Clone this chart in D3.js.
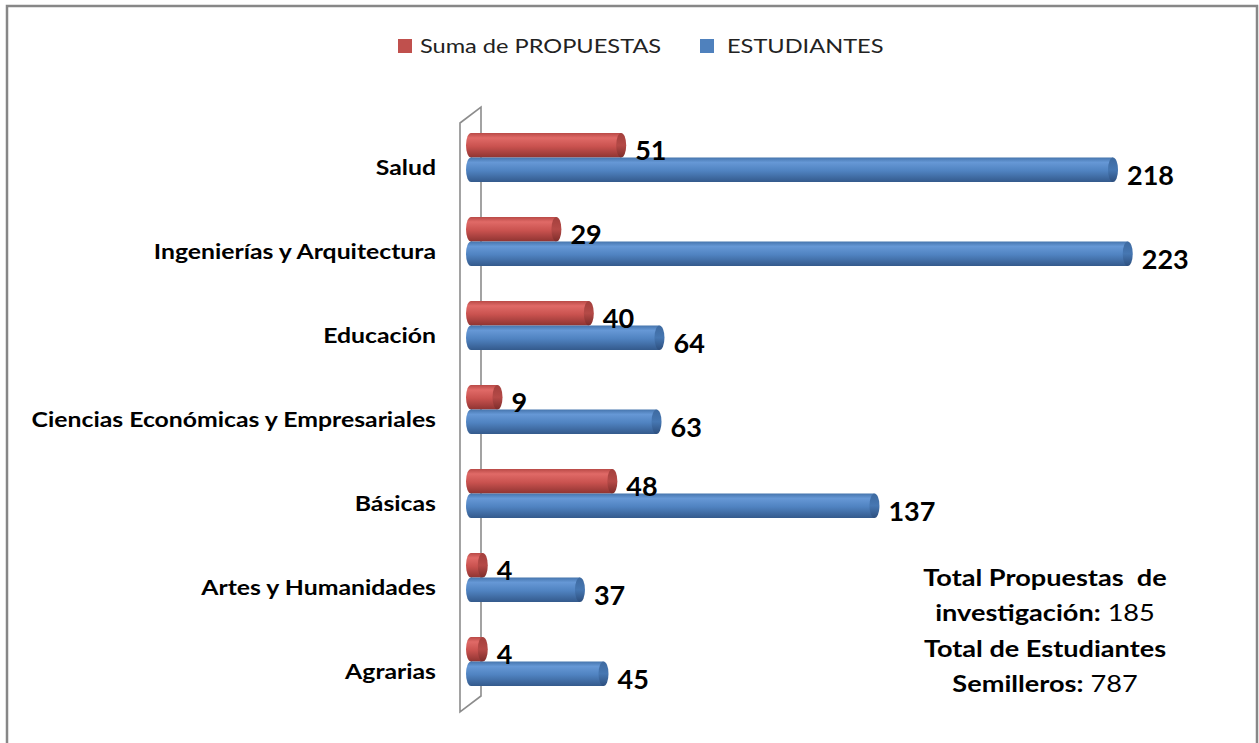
<!DOCTYPE html>
<html>
<head>
<meta charset="utf-8">
<script src="https://cdn.jsdelivr.net/npm/d3@7"></script>
<style>
  body { margin: 0; background: #fff; }
  svg { display: block; font-family: Lato, "Open Sans", sans-serif; }
</style>
</head>
<body>
<div id="chart"></div>
<script>
const categories = ["Salud", "Ingenierías y Arquitectura", "Educación",
  "Ciencias Económicas y Empresariales", "Básicas", "Artes y Humanidades", "Agrarias"];
const propuestas = [51, 29, 40, 9, 48, 4, 4];
const estudiantes = [218, 223, 64, 63, 137, 37, 45];
const seriesNames = ["Suma de PROPUESTAS", "ESTUDIANTES"];

const width = 1259, height = 743;
const stretch = 1.18; // the original text is a bit wide

const svg = d3.select("#chart").append("svg")
  .attr("width", width)
  .attr("height", height);

// outer chart border
svg.append("rect")
  .attr("x", 7).attr("y", 6)
  .attr("width", 1250).attr("height", 780)
  .attr("fill", "none")
  .attr("stroke", "#878787")
  .attr("stroke-width", 2.5);

const x = d3.scaleLinear().domain([0, 250]).range([471, 471 + 250 * 2.945]);
const y = d3.scaleBand().domain(categories).range([125, 713]);

const defs = svg.append("defs");
function cylGrad(id, stops) {
  const g = defs.append("linearGradient").attr("id", id)
    .attr("x1", 0).attr("y1", 0).attr("x2", 0).attr("y2", 1);
  stops.forEach(s => g.append("stop").attr("offset", s[0]).attr("stop-color", s[1]));
}
cylGrad("redBody", [[0, "#b94a47"], [0.2, "#e06a67"], [0.55, "#c9524f"], [1, "#8f3432"]]);
cylGrad("blueBody", [[0, "#4675ad"], [0.2, "#6698d6"], [0.55, "#4f82c0"], [1, "#345a8c"]]);
cylGrad("redCap", [[0, "#a3403d"], [0.5, "#b54a47"], [1, "#7d2c2a"]]);
cylGrad("blueCap", [[0, "#3e6aa0"], [0.5, "#4677b2"], [1, "#2d4f7e"]]);

// 3D wall behind the category axis
const wallTop = y.range()[0], wallBot = y.range()[1];
svg.append("path")
  .attr("d", `M460,${wallTop - 2} L481,${wallTop - 18} L481,${wallBot - 17} L460,${wallBot - 1} Z`)
  .attr("fill", "none")
  .attr("stroke", "#8c8c8c")
  .attr("stroke-width", 1.6);

const barH = 24.5, rx = 5;
const series = [
  { name: seriesNames[0], values: propuestas, body: "url(#redBody)", cap: "url(#redCap)", off: -34 },
  { name: seriesNames[1], values: estudiantes, body: "url(#blueBody)", cap: "url(#blueCap)", off: -9.5 }
];

const barLayer = svg.append("g");
const labelLayer = svg.append("g");

series.forEach(s => {
  const g = barLayer.append("g");
  const rows = categories.map((c, i) => ({ c, v: s.values[i] }));
  const top = d => y(d.c) + y.bandwidth() / 2 + s.off;

  g.selectAll(".lend").data(rows).enter().append("ellipse")
    .attr("cx", x(0)).attr("cy", d => top(d) + barH / 2)
    .attr("rx", rx).attr("ry", barH / 2)
    .attr("fill", s.body);
  g.selectAll(".body").data(rows).enter().append("rect")
    .attr("x", x(0)).attr("y", top)
    .attr("width", d => x(d.v) - x(0)).attr("height", barH)
    .attr("fill", s.body);
  g.selectAll(".cap").data(rows).enter().append("ellipse")
    .attr("cx", d => x(d.v)).attr("cy", d => top(d) + barH / 2)
    .attr("rx", rx).attr("ry", barH / 2)
    .attr("fill", s.cap);

  labelLayer.append("g").selectAll("text").data(rows).enter().append("text")
    .attr("x", d => x(d.v) + rx + 9)
    .attr("y", d => top(d) + barH + 2.5)
    .attr("font-size", 27)
    .attr("font-weight", "bold")
    .attr("fill", "#000")
    .text(d => d.v);
});

// category labels
svg.append("g").selectAll("text").data(categories).enter().append("text")
  .attr("transform", d => `translate(436,${y(d) + y.bandwidth() / 2 + 8}) scale(${stretch},1)`)
  .attr("text-anchor", "end")
  .attr("font-size", 21)
  .attr("font-weight", "bold")
  .attr("fill", "#000")
  .text(d => d);

// legend
const legend = [
  { name: seriesNames[0], color: "#c0504d", x: 398, tx: 420 },
  { name: seriesNames[1], color: "#4f81bd", x: 700, tx: 727 }
];
legend.forEach(l => {
  svg.append("rect").attr("x", l.x).attr("y", 39).attr("width", 14).attr("height", 14).attr("fill", l.color);
  svg.append("text").attr("transform", `translate(${l.tx},53) scale(${stretch},1)`)
    .attr("font-size", 20).attr("fill", "#222").text(l.name);
});

// totals note
const note = svg.append("text")
  .attr("transform", `translate(1045,0) scale(${stretch},1)`)
  .attr("text-anchor", "middle").attr("font-size", 23).attr("fill", "#000");
const lines = [
  [["Total Propuestas  de", true]],
  [["investigación:", true], [" " + d3.sum(propuestas), false]],
  [["Total de Estudiantes", true]],
  [["Semilleros:", true], [" " + d3.sum(estudiantes), false]]
];
lines.forEach((ln, i) => {
  const t = note.append("tspan").attr("x", 0).attr("y", 586 + i * 35.5);
  ln.forEach((p, j) => {
    (j === 0 ? t : note.append("tspan"))
      .attr("font-weight", p[1] ? "bold" : "normal")
      .style("white-space", "pre")
      .text(p[0]);
  });
});
</script>
</body>
</html>
